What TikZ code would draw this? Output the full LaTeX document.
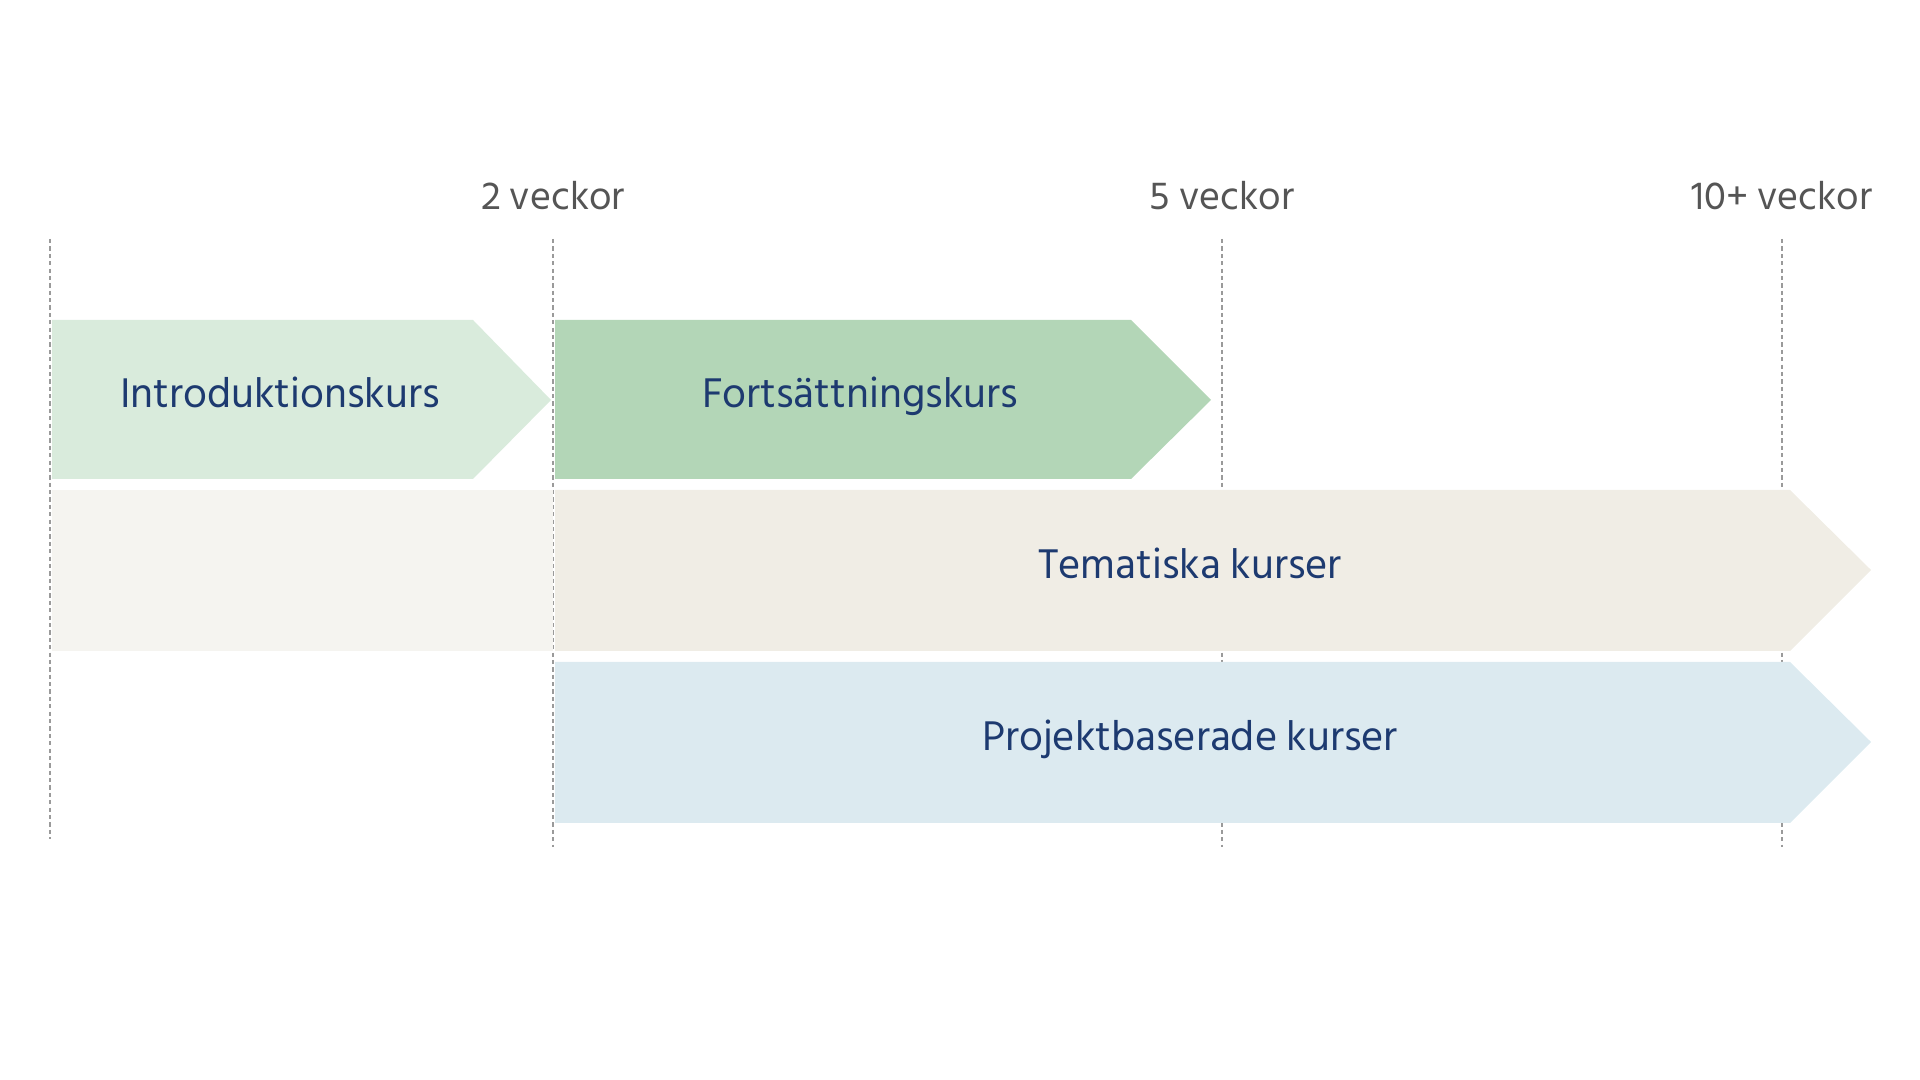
\documentclass[tikz,border=0pt]{standalone}
\usepackage{fontspec}
\setmainfont{Hind Siliguri}

\definecolor{introgreen}{HTML}{D9EBDC}
\definecolor{contgreen}{HTML}{B3D6B7}
\definecolor{themebeige}{HTML}{F0EDE5}
\definecolor{themepale}{HTML}{F5F4F0}
\definecolor{projblue}{HTML}{DCEAF0}
\definecolor{coursetextcol}{HTML}{1D3A70}
\definecolor{weekgray}{HTML}{555555}
\definecolor{gridgray}{HTML}{9A9A9A}

\tikzset{
  gridline/.style={gridgray, line width=0.4pt, dash pattern=on 1.2pt off 0.9pt},
  weeklabel/.style={font=\fontsize{11.4}{13}\selectfont, text=weekgray, inner sep=0pt, anchor=base},
  coursetext/.style={font=\fontsize{12.1}{14}\selectfont, text=coursetextcol, inner sep=0pt, anchor=base}
}

\begin{document}
\begin{tikzpicture}[x=0.01cm, y=-0.01cm]
  \useasboundingbox (0,0) rectangle (1920,1080);

  % Week markers
  \draw[gridline] (50,239) -- (50,839);
  \draw[gridline] (553,239) -- (553,847);
  \draw[gridline] (1222,239) -- (1222,847);
  \draw[gridline] (1782,239) -- (1782,847);

  \node[weeklabel] (w2) at (553,210) {2 veckor};
  \node[weeklabel] (w5) at (1222,210) {5 veckor};
  \node[weeklabel] (w10) at (1782,210) {10+ veckor};

  % Introduktionskurs
  \fill[introgreen] (52,320) -- (473,320) -- (551,400) -- (473,479) -- (52,479) -- cycle;
  \node[coursetext] (intro) at (280,408) {Introduktionskurs};

  % Fortsättningskurs
  \fill[contgreen] (555,320) -- (1131,320) -- (1211,400) -- (1131,479) -- (555,479) -- cycle;
  \node[coursetext] (cont) at (860,408) {Fortsättningskurs};

  % Tematiska kurser
  \fill[themepale] (52,490) rectangle (553,651);
  \fill[themebeige] (555,490) -- (1790,490) -- (1871,570) -- (1790,651) -- (555,651) -- cycle;
  \node[coursetext] (theme) at (1190,579) {Tematiska kurser};

  % Projektbaserade kurser
  \fill[projblue] (555,662) -- (1790,662) -- (1871,742) -- (1790,823) -- (555,823) -- cycle;
  \node[coursetext] (proj) at (1190,751) {Projektbaserade kurser};

\end{tikzpicture}
\end{document}
